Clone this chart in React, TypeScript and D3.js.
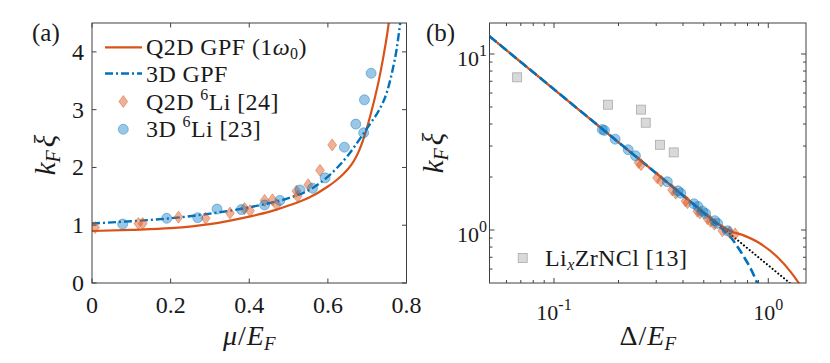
import React from 'react';
import * as d3 from 'd3';

// panel (a): k_F xi vs mu/E_F
const q2dGpfMu = [0, 0.1, 0.2, 0.3, 0.4, 0.45, 0.5, 0.55, 0.6, 0.62, 0.64, 0.66, 0.67, 0.68, 0.69, 0.7, 0.71, 0.72, 0.73, 0.74, 0.75, 0.757, 0.765];
const q2dGpfK = [0.9, 0.92, 0.95, 1.02, 1.15, 1.23, 1.34, 1.47, 1.67, 1.77, 1.89, 2.05, 2.16, 2.3, 2.48, 2.7, 2.95, 3.22, 3.52, 3.87, 4.27, 4.6, 5.0];
const gpf3dMu = [0, 0.1, 0.2, 0.3, 0.4, 0.45, 0.5, 0.55, 0.6, 0.65, 0.69, 0.71, 0.73, 0.75, 0.765, 0.775, 0.784, 0.79];
const gpf3dK = [1.03, 1.07, 1.12, 1.2, 1.31, 1.38, 1.47, 1.6, 1.84, 2.2, 2.58, 2.78, 2.99, 3.3, 3.7, 4.05, 4.5, 4.8];
const q2dLiMu = [0.008, 0.118, 0.129, 0.22, 0.289, 0.351, 0.388, 0.402, 0.439, 0.459, 0.47, 0.52, 0.523, 0.55, 0.58, 0.611];
const q2dLiK = [0.96, 1.03, 1.03, 1.14, 1.12, 1.21, 1.29, 1.25, 1.43, 1.44, 1.35, 1.59, 1.5, 1.7, 1.95, 2.39];
const li3dMu = [0.078, 0.19, 0.269, 0.318, 0.38, 0.439, 0.478, 0.529, 0.561, 0.593, 0.642, 0.671, 0.691, 0.693, 0.71];
const li3dK = [1.02, 1.12, 1.13, 1.28, 1.27, 1.35, 1.43, 1.61, 1.64, 1.82, 2.35, 2.75, 2.6, 3.17, 3.63];

// panel (b): k_F xi vs Delta/E_F (log-log)
const q2dGpfD = [0.05, 0.1, 0.2, 0.4, 0.6, 0.668, 0.772, 0.924, 1.106, 1.277, 1.397, 1.45];
const q2dGpfKb = [12.6, 6.3, 3.15, 1.575, 1.06, 0.985, 0.929, 0.833, 0.7, 0.575, 0.494, 0.46];
const gpf3dD = [0.05, 0.1, 0.2, 0.4, 0.55, 0.622, 0.668, 0.72, 0.772, 0.83, 0.891, 0.92];
const gpf3dKb = [12.6, 6.3, 3.15, 1.57, 1.13, 0.99, 0.91, 0.8, 0.7, 0.6, 0.494, 0.45];
const bcsD = [0.05, 1.5];
const bcsK = [12.6, 0.42];
const li3dD = [0.168, 0.172, 0.193, 0.222, 0.24, 0.338, 0.379, 0.39, 0.45, 0.47, 0.493, 0.51, 0.563, 0.58, 0.645];
const li3dKb = [3.72, 3.68, 3.28, 2.86, 2.64, 1.88, 1.67, 1.62, 1.41, 1.36, 1.28, 1.24, 1.13, 1.09, 0.99];
const q2dLiD = [0.248, 0.255, 0.303, 0.316, 0.356, 0.37, 0.411, 0.42, 0.467, 0.48, 0.52, 0.538, 0.56, 0.611, 0.66, 0.7];
const q2dLiKb = [2.42, 2.35, 1.98, 1.9, 1.69, 1.62, 1.46, 1.43, 1.28, 1.25, 1.16, 1.12, 1.08, 0.99, 0.97, 0.95];
const zrnclD = [0.0673, 0.1786, 0.2548, 0.268, 0.312, 0.362];
const zrnclK = [7.37, 5.15, 4.83, 4.07, 3.05, 2.76];

const xTicksA = [0, 0.2, 0.4, 0.6, 0.8];
const xTickLabelsA = ['0', '0.2', '0.4', '0.6', '0.8'];
const yTicksA = [0, 1, 2, 3, 4];
const majorB = [0.1, 1];
const xMinorB = [0.06, 0.07, 0.08, 0.09, 0.2, 0.3, 0.4, 0.5, 0.6, 0.7, 0.8, 0.9];
const yMajorB = [1, 10];
const yMinorB = [0.6, 0.7, 0.8, 0.9, 2, 3, 4, 5, 6, 7, 8, 9];

const ORANGE = '#D95319';
const BLUE = '#0072BD';
const FONT = '"Liberation Serif", "Times New Roman", serif';
const AX = '#404040';
const TXT = '#1a1a1a';

const pa = { l: 92, r: 406.5, t: 23, b: 283 };
const pb = { l: 489.5, r: 806, t: 23, b: 283 };

const xA = d3.scaleLinear().domain([0, 0.8]).range([pa.l, pa.r]);
const yA = d3.scaleLinear().domain([0, 4.5]).range([pa.b, pa.t]);
const xB = d3.scaleLog().domain([0.05, 1.5]).range([pb.l, pb.r]);
const yB = d3.scaleLog().domain([0.5, 15]).range([pb.b, pb.t]);

const zip = (xs: number[], ys: number[]) => xs.map((x, i) => [x, ys[i]] as [number, number]);

const pathOf = (xs: number[], ys: number[], sx: any, sy: any) =>
  d3.line<[number, number]>().x(d => sx(d[0])).y(d => sy(d[1])).curve(d3.curveMonotoneX)(zip(xs, ys)) || '';

const diamond = (x: number, y: number, w = 4.4, h = 6) =>
  `M${x},${y - h}L${x + w},${y}L${x},${y + h}L${x - w},${y}Z`;

const Diamonds = ({ xs, ys, sx, sy }: any) => (
  <g>
    {xs.map((x: number, i: number) => (
      <path key={i} d={diamond(sx(x), sy(ys[i]))} fill={ORANGE} fillOpacity={0.45}
        stroke={ORANGE} strokeOpacity={0.55} strokeWidth={0.8} />
    ))}
  </g>
);

const Circles = ({ xs, ys, sx, sy }: any) => (
  <g>
    {xs.map((x: number, i: number) => (
      <circle key={i} cx={sx(x)} cy={sy(ys[i])} r={5} fill={BLUE} fillOpacity={0.4}
        stroke={BLUE} strokeOpacity={0.5} strokeWidth={0.8} />
    ))}
  </g>
);

const Frame = ({ p }: any) => (
  <rect x={p.l} y={p.t} width={p.r - p.l} height={p.b - p.t} fill="none" stroke={AX} strokeWidth={1} />
);

const KLabel = ({ x, y }: any) => (
  <text transform={`translate(${x},${y}) rotate(-90)`} textAnchor="middle" fontSize={29} fill={TXT}>
    <tspan fontStyle="italic">k</tspan>
    <tspan fontStyle="italic" fontSize={20} dy={5}>F</tspan>
    <tspan fontStyle="italic" dy={-5} dx={3}>ξ</tspan>
  </text>
);

const SupTen = ({ x, y, exp, anchor }: any) => (
  <text x={x} y={y} textAnchor={anchor} fontSize={22} fill={TXT}>
    10<tspan fontSize={16} dy={-10}>{exp}</tspan>
  </text>
);

export default function App() {
  const tk = 4.5;
  return (
    <svg width={830} height={363} style={{ position: 'absolute', left: 0, top: 0, background: '#fff' }}
      fontFamily={FONT}>
      <defs>
        <clipPath id="clipA"><rect x={pa.l} y={pa.t} width={pa.r - pa.l} height={pa.b - pa.t} /></clipPath>
        <clipPath id="clipB"><rect x={pb.l} y={pb.t} width={pb.r - pb.l} height={pb.b - pb.t} /></clipPath>
      </defs>

      {/* ---------- panel (a) ---------- */}
      <g>
        {xTicksA.map(v => (
          <g key={'xa' + v}>
            <line x1={xA(v)} x2={xA(v)} y1={pa.b} y2={pa.b - tk} stroke={AX} />
            <line x1={xA(v)} x2={xA(v)} y1={pa.t} y2={pa.t + tk} stroke={AX} />
          </g>
        ))}
        {yTicksA.map(v => (
          <g key={'ya' + v}>
            <line x1={pa.l} x2={pa.l + tk} y1={yA(v)} y2={yA(v)} stroke={AX} />
            <line x1={pa.r} x2={pa.r - tk} y1={yA(v)} y2={yA(v)} stroke={AX} />
          </g>
        ))}
        <g clipPath="url(#clipA)">
          <path d={pathOf(q2dGpfMu, q2dGpfK, xA, yA)} fill="none" stroke={ORANGE} strokeWidth={2.2} />
          <path d={pathOf(gpf3dMu, gpf3dK, xA, yA)} fill="none" stroke={BLUE} strokeWidth={2.4}
            strokeDasharray="8,3,2,3" />
          <Diamonds xs={q2dLiMu} ys={q2dLiK} sx={xA} sy={yA} />
          <Circles xs={li3dMu} ys={li3dK} sx={xA} sy={yA} />
        </g>
        <Frame p={pa} />
        {xTicksA.map((v, i) => (
          <text key={'xla' + v} x={xA(v)} y={313} textAnchor="middle" fontSize={24} fill={TXT}>{xTickLabelsA[i]}</text>
        ))}
        {yTicksA.map(v => (
          <text key={'yla' + v} x={84} y={yA(v) + 8} textAnchor="end" fontSize={24} fill={TXT}>{v}</text>
        ))}
        <text x={(pa.l + pa.r) / 2} y={345} textAnchor="middle" fontSize={28} fill={TXT}>
          <tspan fontStyle="italic">μ</tspan>
          <tspan dx={1}>/</tspan>
          <tspan fontStyle="italic" dx={1}>E</tspan>
          <tspan fontStyle="italic" fontSize={19} dy={5}>F</tspan>
        </text>
        <KLabel x={55} y={155} />
        <text x={32} y={41} fontSize={25} fill={TXT}>(a)</text>

        {/* legend */}
        <line x1={105} x2={142} y1={47.3} y2={47.3} stroke={ORANGE} strokeWidth={2.2} />
        <line x1={105} x2={142} y1={73.5} y2={73.5} stroke={BLUE} strokeWidth={2.4} strokeDasharray="8,3,2,3" />
        <path d={diamond(123.3, 101.5)} fill={ORANGE} fillOpacity={0.45} stroke={ORANGE} strokeOpacity={0.55} strokeWidth={0.8} />
        <circle cx={123.3} cy={129.3} r={5} fill={BLUE} fillOpacity={0.4} stroke={BLUE} strokeOpacity={0.5} strokeWidth={0.8} />
        <g fontSize={24} fill={TXT} letterSpacing={0.4}>
          <text x={146} y={55}>
            Q2D GPF (1<tspan fontStyle="italic">ω</tspan><tspan fontSize={16} dy={4}>0</tspan><tspan dy={-4}>)</tspan>
          </text>
          <text x={146} y={81.5}>3D GPF</text>
          <text x={146} y={109.5}>
            Q2D <tspan fontSize={16} dy={-10}>6</tspan><tspan dy={10}>Li [24]</tspan>
          </text>
          <text x={146} y={137}>
            3D <tspan fontSize={16} dy={-10}>6</tspan><tspan dy={10}>Li [23]</tspan>
          </text>
        </g>
      </g>

      {/* ---------- panel (b) ---------- */}
      <g>
        {[...majorB.map(v => [v, 5]), ...xMinorB.map(v => [v, 3])].map(([v, len]) => (
          <g key={'xb' + v}>
            <line x1={xB(v)} x2={xB(v)} y1={pb.b} y2={pb.b - len} stroke={AX} />
            <line x1={xB(v)} x2={xB(v)} y1={pb.t} y2={pb.t + len} stroke={AX} />
          </g>
        ))}
        {[...yMajorB.map(v => [v, 5]), ...yMinorB.map(v => [v, 3])].map(([v, len]) => (
          <g key={'yb' + v}>
            <line x1={pb.l} x2={pb.l + len} y1={yB(v)} y2={yB(v)} stroke={AX} />
            <line x1={pb.r} x2={pb.r - len} y1={yB(v)} y2={yB(v)} stroke={AX} />
          </g>
        ))}
        <g clipPath="url(#clipB)">
          <path d={pathOf(bcsD, bcsK, xB, yB)} fill="none" stroke="#000" strokeWidth={2}
            strokeDasharray="0.1,3.6" strokeLinecap="round" />
          <path d={pathOf(q2dGpfD, q2dGpfKb, xB, yB)} fill="none" stroke={ORANGE} strokeWidth={2.2} />
          <path d={pathOf(gpf3dD, gpf3dKb, xB, yB)} fill="none" stroke={BLUE} strokeWidth={2.6}
            strokeDasharray="9,4" />
          {zrnclD.map((x, i) => (
            <rect key={'sq' + i} x={xB(x) - 4.5} y={yB(zrnclK[i]) - 4.5} width={9} height={9}
              fill="#d9d9d9" stroke="#aaaaaa" strokeWidth={0.8} />
          ))}
          <Diamonds xs={q2dLiD} ys={q2dLiKb} sx={xB} sy={yB} />
          <Circles xs={li3dD} ys={li3dKb} sx={xB} sy={yB} />
        </g>
        <Frame p={pb} />
        <SupTen x={xB(0.1)} y={320} exp="-1" anchor="middle" />
        <SupTen x={xB(1)} y={320} exp="0" anchor="middle" />
        <SupTen x={487} y={yB(10) + 12} exp="1" anchor="end" />
        <SupTen x={487} y={yB(1) + 12} exp="0" anchor="end" />
        <text x={(pb.l + pb.r) / 2} y={345} textAnchor="middle" fontSize={28} fill={TXT}>
          <tspan>Δ</tspan>
          <tspan dx={1}>/</tspan>
          <tspan fontStyle="italic" dx={1}>E</tspan>
          <tspan fontStyle="italic" fontSize={19} dy={5}>F</tspan>
        </text>
        <KLabel x={443} y={153} />
        <text x={426} y={41} fontSize={25} fill={TXT}>(b)</text>

        <rect x={518.2} y={253.5} width={9} height={9} fill="#d9d9d9" stroke="#aaaaaa" strokeWidth={0.8} />
        <text x={545} y={265.5} fontSize={24} fill={TXT} letterSpacing={0.4}>
          Li<tspan fontStyle="italic" fontSize={16} dy={4}>x</tspan><tspan dy={-4}>ZrNCl [13]</tspan>
        </text>
      </g>
    </svg>
  );
}
